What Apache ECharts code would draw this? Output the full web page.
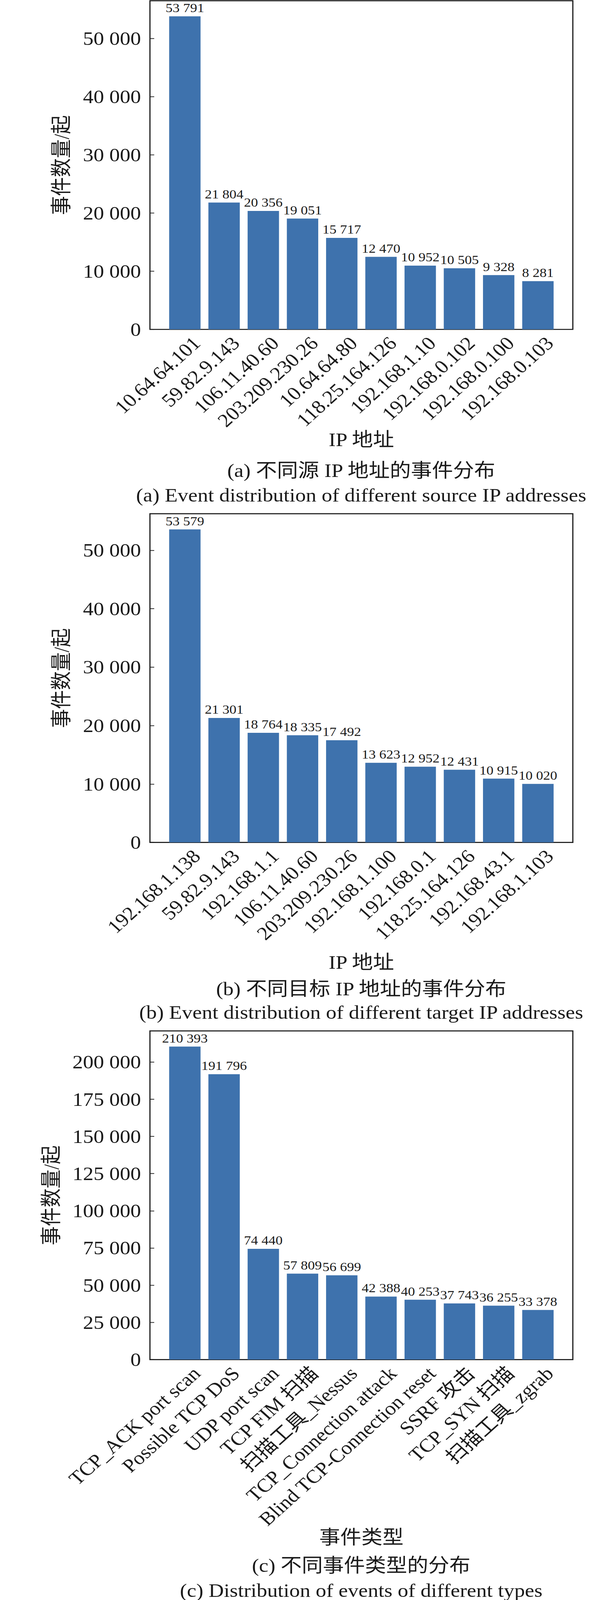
<!DOCTYPE html>
<html>
<head>
<meta charset="utf-8">
<script src="https://cdn.jsdelivr.net/npm/echarts@6/dist/echarts.min.js"></script>
<style>
  html, body { margin: 0; padding: 0; background: #fff; overflow: hidden; }
  #chart { width: 1575px; height: 4566px; transform-origin: 0 0; }
</style>
</head>
<body>
<div id="chart"></div>
<script>
// (a) source IP addresses
const srcIps = ['10.64.64.101', '59.82.9.143', '106.11.40.60', '203.209.230.26', '10.64.64.80',
    '118.25.164.126', '192.168.1.10', '192.168.0.102', '192.168.0.100', '192.168.0.103'];
const srcCounts = [53791, 21804, 20356, 19051, 15717, 12470, 10952, 10505, 9328, 8281];

// (b) target IP addresses
const dstIps = ['192.168.1.138', '59.82.9.143', '192.168.1.1', '106.11.40.60', '203.209.230.26',
    '192.168.1.100', '192.168.0.1', '118.25.164.126', '192.168.43.1', '192.168.1.103'];
const dstCounts = [53579, 21301, 18764, 18335, 17492, 13623, 12952, 12431, 10915, 10020];

// (c) event types
const eventTypes = ['TCP_ACK port scan', 'Possible TCP DoS', 'UDP port scan', 'TCP FIM 扫描', '扫描工具_Nessus',
    'TCP_Connection attack', 'Blind TCP-Connection reset', 'SSRF 攻击', 'TCP_SYN 扫描', '扫描工具_zgrab'];
const eventCounts = [210393, 191796, 74440, 57809, 56699, 42388, 40253, 37743, 36255, 33378];

const yStepAB = 10000;
const yStepC = 25000;

const FONT = '"Liberation Serif", "Times New Roman", "Noto Sans CJK SC", serif';
const INK = '#1a1a1a';
const BAR = '#3e72ad';

function fmt(v) {
    return String(v).replace(/\B(?=(\d{3})+(?!\d))/g, ' ');
}

// frame like matplotlib: x from -0.89 to 9.89, bars 0.8 wide
const frameLeft = 384, frameWidth = 1083, frameHeight = 938;
const unit = frameWidth / 10.78;
const labelShift = 30; // rotated tick labels sit a bit right of the bar centres

const grids = [], xAxes = [], yAxes = [], series = [], titles = [];

function panel(top, cats, vals, step, xName, xNameGap, capZh, capEn, capZhTop, capEnTop) {
    const yMax = Math.max.apply(null, vals) * 1.05;
    const g = grids.length;
    const barsLeft = frameLeft + 0.39 * unit;
    grids.push({ left: frameLeft, top: top, width: frameWidth, height: frameHeight,
        show: true, borderColor: INK, borderWidth: 3, backgroundColor: 'transparent' });
    grids.push({ left: barsLeft, top: top, width: 10 * unit, height: frameHeight });
    grids.push({ left: barsLeft + labelShift, top: top, width: 10 * unit, height: frameHeight });

    // frame: y ticks and labels
    xAxes.push({ gridIndex: g, type: 'value', min: 0, max: 1, show: false });
    yAxes.push({
        gridIndex: g, type: 'value', min: 0, max: yMax, interval: step,
        axisLine: { show: false }, splitLine: { show: false },
        axisTick: { inside: true, length: 11, lineStyle: { color: INK, width: 2 } },
        axisLabel: { margin: 23, fontSize: 54, color: INK, fontFamily: FONT, showMaxLabel: false,
            formatter: fmt },
        name: '事件数量/起', nameLocation: 'middle',
        nameGap: step === yStepC ? 225 : 199,
        nameTextStyle: { fontSize: 54, color: INK, fontFamily: FONT }
    });

    // bars
    xAxes.push({
        gridIndex: g + 1, type: 'category', data: cats,
        axisLine: { show: false }, axisTick: { show: false }, axisLabel: { show: false },
        name: xName, nameLocation: 'middle', nameGap: xNameGap,
        nameTextStyle: { fontSize: 54, color: INK, fontFamily: FONT }
    });
    yAxes.push({ gridIndex: g + 1, type: 'value', min: 0, max: yMax, show: false });

    // category labels
    xAxes.push({
        gridIndex: g + 2, type: 'category', data: cats,
        axisLine: { show: false }, axisTick: { show: false },
        axisLabel: { rotate: 45, interval: 0, margin: 30, fontSize: 54, color: INK, fontFamily: FONT }
    });
    yAxes.push({ gridIndex: g + 2, type: 'value', min: 0, max: 1, show: false });

    series.push({
        type: 'bar', xAxisIndex: g + 1, yAxisIndex: g + 1, data: vals,
        barWidth: '80%', itemStyle: { color: BAR },
        label: { show: true, position: 'top', distance: 6, fontSize: 36, color: INK, fontFamily: FONT,
            formatter: p => fmt(p.value) },
        silent: true, animation: false
    });

    titles.push({ text: capZh, left: 925, top: capZhTop, textAlign: 'center', padding: 0,
        textStyle: { fontSize: 54, fontWeight: 'normal', color: INK, fontFamily: FONT } });
    titles.push({ text: capEn, left: 925, top: capEnTop, textAlign: 'center', padding: 0,
        textStyle: { fontSize: 54, fontWeight: 'normal', color: INK, fontFamily: FONT } });
}

panel(2, srcIps, srcCounts, yStepAB, 'IP 地址', 288,
    '(a) 不同源 IP 地址的事件分布', '(a) Event distribution of different source IP addresses', 1316, 1386);
panel(1466, dstIps, dstCounts, yStepAB, 'IP 地址', 315,
    '(b) 不同目标 IP 地址的事件分布', '(b) Event distribution of different target IP addresses', 2795, 2862);
panel(2942, eventTypes, eventCounts, yStepC, '事件类型', 480,
    '(c) 不同事件类型的分布', '(c) Distribution of events of different types', 4440, 4512);

const el = document.getElementById('chart');
// the window may be shorter than the figure: squeeze it vertically to fit
const sy = Math.min(1, (window.innerHeight || 4566) / 4566);
el.style.transform = 'scale(1, ' + sy + ')';

const chart = echarts.init(el, null, { renderer: 'svg' });
chart.setOption({
    animation: false,
    backgroundColor: '#fff',
    title: titles,
    grid: grids,
    xAxis: xAxes,
    yAxis: yAxes,
    series: series
});
</script>
</body>
</html>
